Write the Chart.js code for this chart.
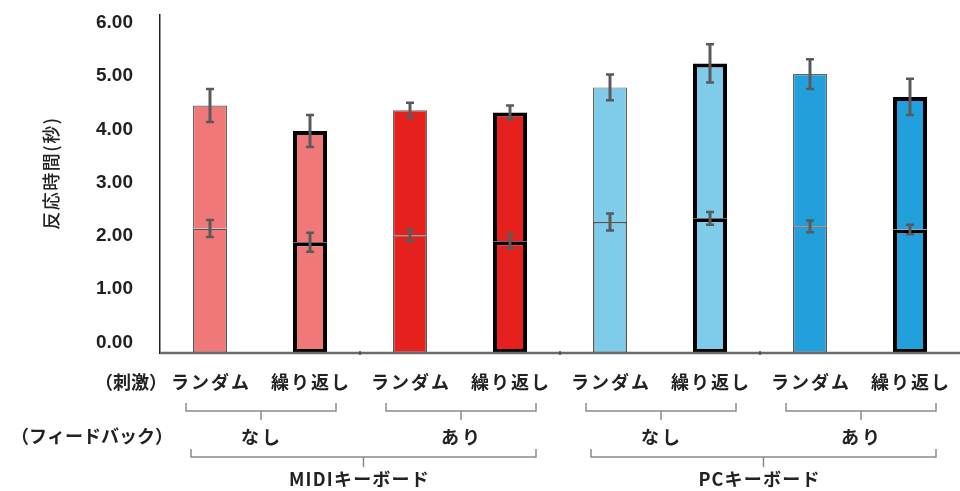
<!DOCTYPE html>
<html>
<head>
<meta charset="utf-8">
<script src="https://cdn.jsdelivr.net/npm/chart.js@4"></script>
<style>
  html, body { margin: 0; padding: 0; background: #fff; }
  #wrap { width: 960px; height: 491px; }
</style>
</head>
<body>
<div id="wrap"><canvas id="chart" width="960" height="491"></canvas></div>
<script>
// stimulus labels, one per bar
const stimulus = ["ランダム", "繰り返し", "ランダム", "繰り返し", "ランダム", "繰り返し", "ランダム", "繰り返し"];
const feedback = ["なし", "あり", "なし", "あり"];
const keyboards = ["MIDIキーボード", "PCキーボード"];

// reaction time (s): lower segment and total height
const lowerValues = [2.14, 1.88, 2.01, 1.90, 2.26, 2.33, 2.18, 2.12];
const totalValues = [4.45, 3.97, 4.36, 4.32, 4.79, 5.24, 5.04, 4.61];
const lowerErrors = [0.16, 0.18, 0.11, 0.14, 0.16, 0.12, 0.11, 0.09];
const totalErrors = [0.31, 0.30, 0.14, 0.13, 0.24, 0.36, 0.28, 0.34];
const yTicks = [0, 1, 2, 3, 4, 5, 6];

const fills = ["#f07878", "#f07878", "#e6201c", "#e6201c", "#7ecbea", "#7ecbea", "#22a0dc", "#22a0dc"];
const thick = stimulus.map(s => s === "繰り返し");

const jpFont = "'Noto Sans CJK JP', 'Noto Sans', sans-serif";

// error bars, axis title + bracket labels under the axis
const extras = {
  id: "extras",
  afterDatasetsDraw(chart) {
    const ctx = chart.ctx;
    const x = chart.scales.x, y = chart.scales.y;
    const area = chart.chartArea;

    // baseline
    ctx.save();
    ctx.strokeStyle = "#6b6b6b";
    ctx.lineWidth = 2.5;
    ctx.beginPath();
    ctx.moveTo(area.left, area.bottom);
    ctx.lineTo(area.right, area.bottom);
    ctx.stroke();
    ctx.lineWidth = 1.5;
    ctx.strokeStyle = "#444";
    [1.5, 3.5, 5.5].forEach(i => {
      const px = x.getPixelForValue(i);
      ctx.beginPath();
      ctx.moveTo(px, area.bottom - 2);
      ctx.lineTo(px, area.bottom + 2);
      ctx.stroke();
    });

    // error bars
    ctx.strokeStyle = "#5a5a5a";
    const drawErr = (cx, v, e) => {
      const y1 = y.getPixelForValue(v + e), y2 = y.getPixelForValue(v - e);
      ctx.lineWidth = 3;
      ctx.beginPath();
      ctx.moveTo(cx, y1); ctx.lineTo(cx, y2);
      ctx.stroke();
      ctx.lineWidth = 2.5;
      ctx.beginPath();
      ctx.moveTo(cx - 4, y1); ctx.lineTo(cx + 4, y1);
      ctx.moveTo(cx - 4, y2); ctx.lineTo(cx + 4, y2);
      ctx.stroke();
    };
    stimulus.forEach((s, i) => {
      const cx = x.getPixelForValue(i);
      drawErr(cx, totalValues[i], totalErrors[i]);
      drawErr(cx, lowerValues[i], lowerErrors[i]);
    });

    // y title
    ctx.fillStyle = "#222";
    ctx.textBaseline = "middle";
    ctx.textAlign = "center";
    ctx.save();
    ctx.translate(51, 173);
    ctx.rotate(-Math.PI / 2);
    ctx.font = "500 18px " + jpFont;
    ctx.letterSpacing = "1.5px";
    ctx.fillText("反応時間(秒)", 0, 0);
    ctx.restore();

    // text rows
    ctx.font = "bold 18px " + jpFont;
    ctx.letterSpacing = "2px";
    stimulus.forEach((s, i) => ctx.fillText(s, x.getPixelForValue(i) + 1, 382));
    ctx.letterSpacing = "0px";
    ctx.textAlign = "right";
    ctx.fillText("（刺激）", 167, 382);
    ctx.fillText("（フィードバック）", 173, 436);

    const brace = (xa, xb, yTop, yLine, yTick) => {
      ctx.strokeStyle = "#8a8a8a";
      ctx.lineWidth = 1.5;
      ctx.beginPath();
      ctx.moveTo(xa, yTop); ctx.lineTo(xa, yLine); ctx.lineTo(xb, yLine); ctx.lineTo(xb, yTop);
      ctx.moveTo((xa + xb) / 2, yLine); ctx.lineTo((xa + xb) / 2, yTick);
      ctx.stroke();
    };

    ctx.textAlign = "center";
    ctx.letterSpacing = "3px";
    feedback.forEach((f, g) => {
      const xa = x.getPixelForValue(2 * g) - 24, xb = x.getPixelForValue(2 * g + 1) + 26;
      brace(xa, xb, 403, 411, 420);
      ctx.fillText(f, (xa + xb) / 2 + 1, 437);
    });
    ctx.letterSpacing = "1.2px";
    keyboards.forEach((k, g) => {
      const xa = x.getPixelForValue(4 * g) - 19, xb = x.getPixelForValue(4 * g + 3) + 26;
      brace(xa, xb, 449, 457, 467);
      ctx.fillText(k, (xa + xb) / 2 - 4, 479);
    });
    ctx.restore();
  }
};

new Chart(document.getElementById("chart"), {
  type: "bar",
  data: {
    labels: stimulus,
    datasets: [
      {
        data: lowerValues,
        base: -0.2,
        backgroundColor: fills,
        borderColor: thick.map(t => t ? "#000" : "#555"),
        borderWidth: thick.map(t => t ? 4 : 1.5),
        borderSkipped: false,
        barPercentage: 0.34,
        categoryPercentage: 1
      },
      {
        data: totalValues.map((t, i) => t - lowerValues[i]),
        backgroundColor: fills,
        borderColor: thick.map(t => t ? "#000" : "#666"),
        borderWidth: thick.map(t => t ? { top: 4, left: 4, right: 4, bottom: 0 } : { top: 1.2, left: 1.2, right: 1.2, bottom: 0 }),
        borderSkipped: false,
        barPercentage: 0.34,
        categoryPercentage: 1
      }
    ]
  },
  options: {
    responsive: false,
    animation: false,
    layout: { padding: { left: 0, right: 0, top: 15, bottom: 138 } },
    plugins: { legend: { display: false }, tooltip: { enabled: false } },
    scales: {
      x: {
        stacked: true,
        display: false
      },
      y: {
        stacked: true,
        min: -0.2,
        max: 6.15,
        afterBuildTicks: s => { s.ticks = yTicks.map(v => ({ value: v })); },
        afterFit: s => { s.width = 160; s.paddingTop = 0; s.paddingBottom = 0; },
        grid: { display: false, drawTicks: false },
        border: { display: true, color: "#222", width: 1.5 },
        ticks: {
          padding: 27,
          color: "#222",
          font: { family: "'Liberation Sans', Arial, sans-serif", size: 19, weight: "bold" },
          callback: v => v.toFixed(2)
        }
      }
    }
  },
  plugins: [extras]
});
</script>
</body>
</html>
